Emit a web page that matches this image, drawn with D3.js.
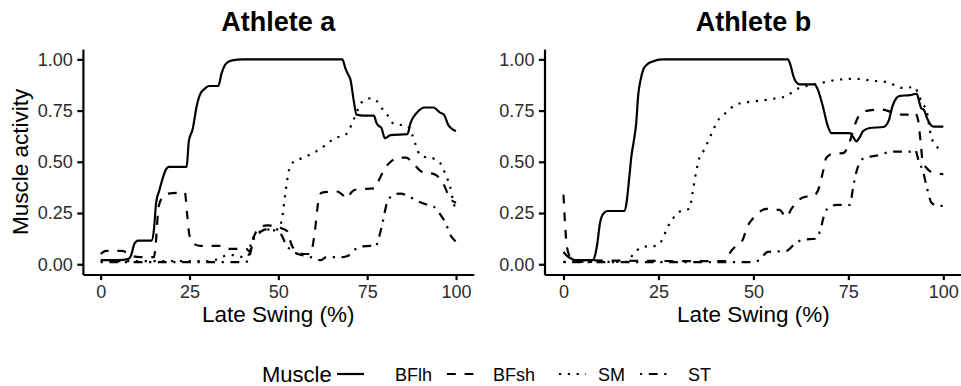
<!DOCTYPE html>
<html lang="en">
<head>
    <meta charset="UTF-8">
    <title>Muscle activity in late swing</title>
    <style>
        body {
            margin: 0;
            background-color: #fff;
            font-family: "Liberation Sans", Arial, sans-serif;
        }

        .tick text {
            font-size: 18px;
            fill: #2b2b2b;
        }

        .axis path,
        .axis line {
            stroke: #000;
            stroke-width: 2.2px;
        }

        .trace {
            fill: none;
            stroke: #000;
            stroke-width: 2.2px;
        }
    </style>
</head>
<body>
    <svg id="chart" width="961" height="386"></svg>

    <script src="https://d3js.org/d3.v7.min.js"></script>
    <script>
        const athletes = ["Athlete a", "Athlete b"];
        const muscles = ["BFlh", "BFsh", "SM", "ST"];
        const xTicks = [0, 25, 50, 75, 100];
        const yTicks = [0, 0.25, 0.5, 0.75, 1];

        // [late swing %, muscle activity]
        const aBFlh = [[0,0.02],[5,0.02],[7.7,0.025],[8.5,0.04],[9.5,0.1],[10.5,0.115],[14.3,0.115],[15,0.17],[15.6,0.3],[16.5,0.36],[17.3,0.41],[18.3,0.46],[19.2,0.475],[24.2,0.475],[24.8,0.6],[25.9,0.66],[27,0.77],[28,0.83],[29.5,0.86],[30.5,0.87],[33.1,0.87],[34,0.93],[35.3,0.98],[37,0.995],[40,1],[68,1],[68.8,0.96],[69.5,0.93],[70.3,0.9],[71.2,0.8],[72,0.73],[74,0.725],[76.9,0.725],[77.6,0.69],[78.3,0.675],[79,0.665],[80,0.615],[81.6,0.63],[86.3,0.635],[87.2,0.69],[89,0.74],[91.2,0.765],[93.6,0.765],[95.5,0.74],[96.6,0.73],[97.8,0.68],[99.3,0.655],[100,0.65]];
        const aBFsh = [[0,0.05],[1.5,0.065],[6,0.065],[7.5,0.055],[9,0.04],[11,0.035],[15,0.035],[15.5,0.1],[16.3,0.28],[17.5,0.33],[19,0.345],[23.7,0.35],[24.3,0.25],[25,0.14],[26.2,0.1],[28,0.09],[34,0.09],[36,0.075],[41,0.075],[42,0.06],[42.5,0.1],[43.5,0.15],[45,0.18],[46.8,0.19],[49.6,0.185],[51,0.175],[52.6,0.16],[53.6,0.1],[55,0.065],[57,0.05],[59,0.05],[60.2,0.15],[61.2,0.3],[62.2,0.35],[66.5,0.355],[68,0.34],[69.3,0.32],[70.5,0.35],[72,0.365],[76.9,0.37],[78,0.4],[79.7,0.46],[81.6,0.5],[84,0.52],[86,0.52],[88,0.49],[90.5,0.45],[93.8,0.44],[95.8,0.41],[96.8,0.38],[98,0.33],[100,0.3]];
        const aSM = [[0,0.015],[30,0.015],[32,0.02],[34,0.035],[36,0.045],[38,0.045],[40,0.035],[41.5,0.04],[42.3,0.1],[43.3,0.14],[45,0.16],[48,0.17],[50,0.17],[51,0.22],[52,0.35],[53,0.46],[54.3,0.5],[57,0.52],[60,0.545],[62,0.565],[64.6,0.6],[66.5,0.62],[68.4,0.625],[70,0.66],[71.2,0.705],[72.5,0.76],[74,0.8],[76,0.81],[77.5,0.8],[78.7,0.77],[80.6,0.73],[82.5,0.685],[86.3,0.675],[87.5,0.64],[88.5,0.59],[90,0.53],[93.8,0.515],[95.7,0.49],[97,0.44],[98.3,0.38],[99.3,0.3],[100,0.26]];
        const aST = [[0,0.01],[40,0.01],[41.5,0.015],[42.2,0.06],[43,0.12],[44.5,0.15],[46.5,0.17],[49,0.165],[51,0.14],[52,0.1],[53.5,0.07],[55.5,0.05],[58,0.04],[60,0.03],[62,0.02],[63.5,0.035],[68,0.035],[69.5,0.04],[71,0.065],[73,0.085],[76,0.09],[77.3,0.085],[78.3,0.13],[79.3,0.2],[80.6,0.3],[82.5,0.34],[84.4,0.345],[86.3,0.335],[89,0.31],[91.9,0.29],[93.8,0.28],[95.7,0.24],[97.1,0.2],[98.5,0.14],[100,0.11]];

        const bBFlh = [[0,0.06],[1,0.04],[2,0.028],[3,0.02],[7.7,0.02],[8.4,0.05],[8.9,0.1],[9.6,0.2],[10.4,0.245],[11.5,0.26],[16,0.26],[16.6,0.3],[17.3,0.42],[17.9,0.53],[18.5,0.6],[19.1,0.68],[19.7,0.83],[20.3,0.9],[21,0.95],[22,0.975],[23.5,0.99],[26,1],[59.1,1],[59.8,0.97],[60.5,0.92],[61.2,0.89],[62.2,0.878],[66.1,0.878],[67,0.85],[68.3,0.77],[69.5,0.68],[70.5,0.64],[75.4,0.64],[76.3,0.62],[77.1,0.6],[78,0.62],[78.9,0.65],[80.6,0.665],[84.2,0.67],[85.6,0.7],[86.6,0.77],[87.6,0.81],[88.6,0.822],[91.2,0.825],[93,0.832],[93.7,0.79],[94.2,0.76],[94.8,0.755],[95.8,0.71],[96.7,0.68],[97.5,0.672],[100,0.672]];
        const bBFsh = [[0,0.34],[0.4,0.2],[0.8,0.1],[1.5,0.045],[3,0.02],[43,0.015],[43.7,0.05],[45.5,0.09],[47.2,0.12],[48.3,0.18],[49.3,0.21],[50.7,0.24],[53.4,0.27],[56.9,0.265],[58.7,0.23],[60,0.27],[61.7,0.31],[63.9,0.33],[65.7,0.332],[67,0.36],[68.3,0.45],[69.2,0.52],[71,0.54],[73.6,0.542],[75.4,0.6],[76.7,0.68],[78,0.73],[80.2,0.75],[83.7,0.755],[86.8,0.74],[89,0.73],[91.2,0.73],[92.5,0.74],[93.4,0.7],[94,0.6],[94.6,0.5],[95.6,0.47],[96.9,0.45],[100,0.44]];
        const bSM = [[0,0.012],[17,0.012],[18,0.04],[19.5,0.07],[20.8,0.085],[24.4,0.09],[25.7,0.11],[27.4,0.18],[29.6,0.24],[31.5,0.265],[33.2,0.27],[34,0.35],[34.9,0.45],[35.8,0.52],[37.1,0.56],[38.3,0.61],[39.3,0.65],[40.6,0.7],[42.8,0.74],[45.5,0.78],[48.1,0.79],[52.5,0.8],[56,0.81],[58.7,0.82],[60.9,0.85],[63.9,0.87],[66.6,0.88],[69.2,0.89],[71.9,0.9],[77.1,0.905],[81.5,0.895],[85,0.89],[87.7,0.87],[89.4,0.86],[92.5,0.865],[93.4,0.83],[94.7,0.78],[95.6,0.75],[96.5,0.65],[97.8,0.58],[100,0.56]];
        const bST = [[0,0.01],[50,0.01],[51,0.015],[52,0.03],[53.8,0.06],[58.7,0.065],[60.9,0.1],[63,0.12],[66.6,0.125],[67.5,0.16],[68.8,0.25],[70.1,0.28],[72,0.29],[75.4,0.29],[76.3,0.38],[77.6,0.48],[79.3,0.52],[82.4,0.53],[86.8,0.55],[91.2,0.55],[92.5,0.56],[93.6,0.5],[94.7,0.45],[95.6,0.38],[96.9,0.3],[98.5,0.285],[100,0.285]];

        const series = [
            [aBFlh, aBFsh, aSM, aST],
            [bBFlh, bBFsh, bSM, bST]
        ];

        // ggplot line types at linewidth 0.5
        const dashes = {
            BFlh: null,
            BFsh: "8.8,8.8",
            SM: "2.2,6.6",
            ST: "2.2,6.6,8.8,6.6"
        };

        const svg = d3.select("#chart");

        const panels = [
            { left: 82.9, right: 473.8 },
            { left: 544.5, right: 962.3 }
        ];
        const panelTop = 49.1, panelBottom = 274.5;

        const y = d3.scaleLinear()
            .domain([-0.05, 1.05])
            .range([panelBottom, panelTop]);

        athletes.forEach((name, i) => {
            const p = panels[i];
            const x = d3.scaleLinear()
                .domain([-5, 105])
                .range([p.left, p.right]);

            const line = d3.line()
                .x(d => x(d[0]))
                .y(d => y(d[1]))
                .curve(d3.curveMonotoneX);

            muscles.forEach((m, j) => {
                svg.append("path")
                    .attr("class", "trace")
                    .attr("d", line(series[i][j]))
                    .attr("stroke-dasharray", dashes[m]);
            });

            svg.append("g")
                .attr("class", "axis")
                .attr("transform", `translate(0,${panelBottom})`)
                .call(d3.axisBottom(x)
                    .tickValues(xTicks)
                    .tickFormat(d3.format("d"))
                    .tickSize(5.6)
                    .tickSizeOuter(0)
                    .tickPadding(5.5));

            svg.append("g")
                .attr("class", "axis")
                .attr("transform", `translate(${p.left},0)`)
                .call(d3.axisLeft(y)
                    .tickValues(yTicks)
                    .tickFormat(d3.format(".2f"))
                    .tickSize(5.6)
                    .tickSizeOuter(0)
                    .tickPadding(4.5));

            svg.selectAll(".axis").attr("font-family", null);

            const mid = (p.left + p.right) / 2;
            svg.append("text")
                .attr("x", mid)
                .attr("y", 31)
                .attr("text-anchor", "middle")
                .style("font-size", "27px")
                .style("font-weight", "bold")
                .text(name);

            svg.append("text")
                .attr("x", mid)
                .attr("y", 322)
                .attr("text-anchor", "middle")
                .style("font-size", "22.5px")
                .text("Late Swing (%)");
        });

        svg.append("text")
            .attr("transform", `translate(28,${(panelTop + panelBottom) / 2}) rotate(-90)`)
            .attr("text-anchor", "middle")
            .style("font-size", "22.5px")
            .text("Muscle activity");

        // legend
        const legendY = 374;
        const keyX = [337, 447, 559, 640];
        const labelX = [395, 493, 598, 688];

        svg.append("text")
            .attr("x", 262)
            .attr("y", 381.5)
            .style("font-size", "22px")
            .text("Muscle");

        muscles.forEach((m, j) => {
            svg.append("line")
                .attr("class", "trace")
                .attr("x1", keyX[j])
                .attr("x2", keyX[j] + 27)
                .attr("y1", legendY)
                .attr("y2", legendY)
                .attr("stroke-dasharray", dashes[m]);

            svg.append("text")
                .attr("x", labelX[j])
                .attr("y", 380.5)
                .style("font-size", "18px")
                .text(m);
        });
    </script>
</body>
</html>
